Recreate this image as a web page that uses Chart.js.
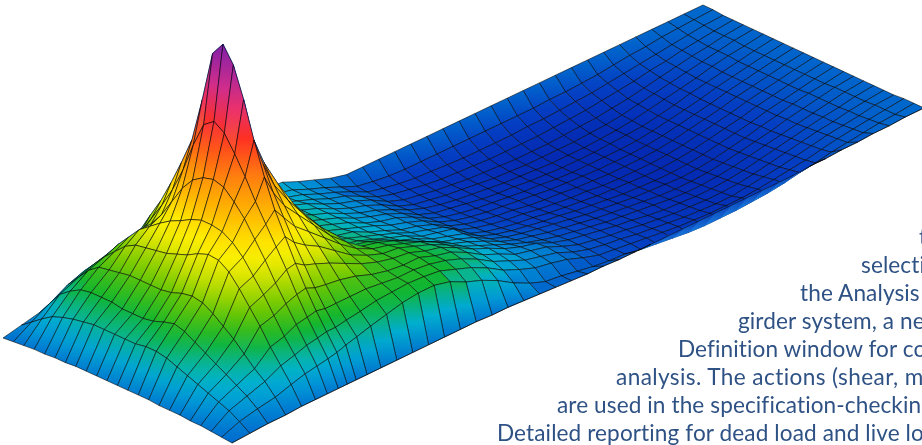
<!DOCTYPE html>
<html>
<head>
<meta charset="utf-8">
<style>
	html, body { margin: 0; padding: 0; width: 922px; height: 445px; overflow: hidden; background: #fff; }
	#surface { position: absolute; left: 0; top: 0; }
	.note { position: absolute; white-space: nowrap; font: 22.6px Lato, sans-serif; font-variant-ligatures: none; color: #2f5285; letter-spacing: 0.1px; }
</style>
<script src="https://cdn.jsdelivr.net/npm/chart.js@4"></script>
</head>
<body>
<canvas id="surface" width="922" height="445"></canvas>
<div class="note" style="left:919px;top:223px">t</div>
<div class="note" style="left:861px;top:251px">selecti</div>
<div class="note" style="left:800px;top:279px">the Analysis</div>
<div class="note" style="left:738px;top:307px">girder system, a ne</div>
<div class="note" style="left:678px;top:335px">Definition window for co</div>
<div class="note" style="left:616px;top:363px;letter-spacing:0.4px">analysis. The actions (shear, m</div>
<div class="note" style="left:557px;top:391px">are used in the specification-checkin</div>
<div class="note" style="left:497px;top:419px">Detailed reporting for dead load and live lo</div>
<script>
// stations along the span, one height list per station, 23 points across the width
const spanStations = [0, 18, 36, 54, 70, 84, 96, 107, 116, 125, 136, 150, 166, 182, 198, 214, 230, 246, 262, 278, 294, 310, 326, 342, 358, 374, 390, 406, 422, 438, 454, 470, 486, 502, 518, 534, 550, 566, 582, 598, 614, 630, 646, 662, 678, 697]

const z0 = [0, 1, 2, 3, 3, 4, 4, 5, 5, 5, 5, 5, 5, 5, 5, 4, 4, 4, 3, 3, 2, 1, 0]
const z18 = [4, 12, 20, 27, 31, 34, 36, 38, 38, 38, 38, 38, 40, 40, 38, 34, 30, 26, 22, 18, 14, 8, 1]
const z36 = [8, 22, 36, 44, 50, 52, 52, 52, 50, 50, 50, 52, 56, 59, 56, 50, 44, 38, 32, 26, 20, 12, 2]
const z54 = [12, 32, 44, 56, 64, 66, 68, 70, 70, 70, 70, 72, 76, 78, 76, 70, 62, 54, 44, 34, 26, 15, 2]
const z70 = [16, 38, 50, 62, 72, 82, 88, 90, 92, 94, 98, 102, 108, 112, 111, 104, 92, 78, 64, 48, 34, 20, 3]
const z84 = [20, 40, 54, 68, 80, 92, 100, 108, 115, 120, 126, 130, 130, 128, 122, 112, 98, 84, 68, 52, 38, 24, 3]
const z96 = [24, 40, 54, 66, 78, 92, 106, 124, 142, 155, 162, 165, 162, 152, 140, 124, 108, 90, 74, 58, 42, 26, 3]
const z107 = [26, 42, 56, 70, 88, 106, 126, 150, 180, 205, 213, 206, 190, 172, 152, 134, 116, 98, 78, 60, 44, 28, 3]
const z116 = [28, 47, 62, 82, 101, 124, 149, 176, 221, 272, 286, 270, 240, 204, 172, 144, 122, 100, 80, 62, 46, 30, 3]
const z125 = [28, 46, 60, 78, 96, 118, 142, 170, 200, 220, 225, 215, 198, 176, 152, 132, 112, 94, 76, 60, 46, 33, 3]
const z136 = [28, 44, 58, 74, 92, 112, 132, 150, 170, 184, 190, 182, 168, 150, 134, 118, 104, 90, 74, 60, 48, 36, 3]
const z150 = [28, 42, 56, 70, 86, 102, 116, 130, 142, 152, 156, 150, 140, 128, 118, 106, 96, 84, 72, 60, 50, 40, 3]
const z166 = [28, 40, 52, 64, 76, 88, 98, 108, 116, 122, 122, 118, 112, 106, 100, 92, 84, 76, 68, 60, 53, 44, 3]
const z182 = [27, 38, 48, 58, 68, 76, 84, 90, 94, 96, 96, 94, 90, 86, 82, 78, 72, 68, 62, 58, 54, 48, 3]
const z198 = [26, 36, 44, 52, 60, 66, 70, 72, 74, 74, 72, 70, 70, 70, 68, 66, 64, 62, 58, 56, 55, 50, 3]
const z214 = [26, 32, 38, 44, 48, 50, 50, 50, 48, 46, 46, 46, 48, 52, 56, 58, 58, 58, 56, 56, 54, 50, 3]
const z230 = [26, 30, 34, 38, 40, 42, 42, 40, 40, 40, 40, 42, 44, 48, 52, 54, 56, 56, 56, 54, 52, 46, 3]
const z246 = [25, 27, 30, 32, 34, 34, 34, 34, 34, 34, 36, 36, 38, 42, 46, 48, 50, 50, 50, 50, 46, 38, 3]
const z262 = [24, 24, 25, 26, 28, 28, 28, 28, 28, 28, 28, 30, 32, 34, 38, 42, 44, 46, 46, 44, 40, 32, 2]
const z278 = [23, 20, 20, 20, 20, 20, 20, 20, 20, 22, 22, 24, 26, 28, 30, 34, 36, 38, 38, 36, 32, 24, 2]
const z294 = [16, 13, 13, 13, 13, 13, 13, 14, 14, 15, 15, 17, 18, 20, 22, 25, 27, 29, 28, 26, 22, 14, 1]
const z310 = [10, 7, 7, 8, 8, 8, 8, 9, 10, 10, 11, 12, 14, 15, 17, 19, 20, 22, 21, 19, 15, 6, 0]
const z326 = [4, 0, 0, 0, 1, 1, 1, 2, 3, 4, 5, 7, 10, 10, 11, 12, 13, 14, 13, 12, 9, 0, -1]
const z342 = [0, -7, -8, -8, -8, -8, -7, -7, -6, -5, -4, -3, -2, 0, 2, 4, 6, 8, 9, 8, 6, -2, -2]
const z358 = [0, -10, -12, -13, -14, -14, -13, -13, -12, -11, -10, -9, -8, -6, -4, -2, 0, 4, 5, 4, 2, -5, -3]
const z374 = [0, -12, -15, -16, -17, -17, -17, -16, -16, -15, -14, -13, -12, -10, -8, -6, -5, -3, -2, -3, -4, -8, -3]
const z390 = [0, -13, -17, -19, -20, -20, -20, -19, -19, -18, -17, -16, -15, -13, -11, -10, -9, -8, -8, -8, -9, -10, -4]
const z406 = [0, -13, -18, -21, -22, -22, -22, -22, -21, -20, -19, -18, -17, -16, -14, -13, -12, -11, -11, -11, -11, -11, -4]
const z422 = [0, -13, -19, -22, -24, -24, -24, -24, -23, -22, -22, -21, -20, -18, -17, -16, -15, -14, -14, -13, -13, -14, -4]
const z438 = [0, -13, -20, -23, -25, -26, -26, -25, -25, -24, -24, -23, -22, -21, -20, -19, -18, -17, -16, -16, -15, -16, -4]
const z454 = [0, -13, -20, -24, -26, -27, -27, -27, -26, -26, -25, -25, -24, -23, -22, -21, -20, -19, -19, -18, -17, -18, -4]
const z470 = [0, -13, -20, -24, -27, -28, -28, -28, -28, -27, -27, -26, -26, -25, -24, -23, -22, -22, -21, -20, -19, -20, -4]
const z486 = [0, -13, -20, -24, -27, -28, -29, -29, -29, -28, -28, -28, -27, -27, -26, -25, -24, -24, -23, -22, -20, -21, -4]
const z502 = [0, -13, -19, -24, -27, -28, -29, -29, -29, -29, -29, -29, -28, -28, -27, -27, -26, -25, -24, -23, -21, -21, -4]
const z518 = [0, -13, -19, -23, -26, -28, -29, -29, -29, -29, -29, -29, -29, -29, -28, -28, -27, -26, -25, -24, -21, -21, -4]
const z534 = [0, -12, -18, -22, -25, -27, -28, -28, -29, -29, -29, -29, -29, -29, -29, -28, -27, -26, -25, -24, -21, -20, -4]
const z550 = [0, -12, -17, -21, -24, -26, -27, -27, -28, -28, -28, -28, -28, -28, -28, -27, -26, -25, -24, -22, -20, -19, -4]
const z566 = [0, -11, -16, -19, -22, -24, -25, -26, -26, -26, -26, -26, -26, -26, -26, -25, -24, -23, -22, -20, -18, -17, -4]
const z582 = [0, -10, -14, -17, -20, -21, -22, -23, -23, -23, -23, -23, -23, -23, -23, -22, -21, -20, -19, -18, -16, -14, -3]
const z598 = [0, -8, -12, -15, -17, -18, -19, -20, -20, -20, -20, -20, -20, -20, -20, -19, -18, -17, -16, -15, -14, -12, -3]
const z614 = [0, -6, -10, -12, -14, -15, -16, -16, -17, -17, -17, -17, -17, -17, -16, -16, -15, -14, -13, -12, -11, -9, -2]
const z630 = [0, -5, -8, -10, -11, -12, -13, -13, -13, -13, -13, -13, -13, -13, -13, -12, -12, -11, -10, -9, -8, -7, -2]
const z646 = [0, -3, -6, -7, -8, -9, -9, -10, -10, -10, -10, -10, -10, -10, -9, -9, -9, -8, -8, -7, -6, -5, -1]
const z662 = [0, -2, -4, -5, -6, -6, -6, -7, -7, -7, -7, -7, -7, -7, -6, -6, -6, -6, -5, -5, -4, -3, -1]
const z678 = [0, -1, -2, -3, -3, -3, -4, -4, -4, -4, -4, -4, -4, -4, -4, -3, -3, -3, -3, -2, -2, -2, 0]
const z697 = [0, 0, -1, -1, -1, -1, -1, -1, -1, -1, -1, -1, -1, -1, -1, -1, -1, -1, -1, -1, 0, 0, 0]

const heightRows = [z0, z18, z36, z54, z70, z84, z96, z107, z116, z125, z136, z150, z166, z182, z198, z214, z230, z246, z262, z278, z294, z310, z326, z342, z358, z374, z390, z406, z422, z438, z454, z470, z486, z502, z518, z534, z550, z566, z582, z598, z614, z630, z646, z662, z678, z697]

// colour ramp, height -> rgb
const rampHeights = [-30, -15, 0, 15, 28, 40, 52, 75, 100, 115, 145, 175, 205, 235, 265, 286]
const rampColors = [[4, 40, 178], [4, 62, 195], [0, 105, 205], [0, 150, 215], [0, 178, 205], [10, 180, 138], [16, 181, 48], [112, 200, 0], [221, 230, 0], [255, 240, 0], [255, 180, 0], [255, 122, 16], [255, 48, 32], [232, 48, 122], [168, 40, 168], [128, 32, 168]]

// corners of the flat deck on the page
const deckA = [3, 338]
const deckB = [232, 443]
const deckC = [924, 108]
const deckD = [703, 5]

const canvas = document.getElementById('surface')
const ctx = canvas.getContext('2d')

const heightColor = z => {
	let k = 0
	while (k < rampHeights.length - 2 && z > rampHeights[k + 1]) k++
	const t = Math.max(0, Math.min(1, (z - rampHeights[k]) / (rampHeights[k + 1] - rampHeights[k])))
	const c = rampColors[k].map((a, n) => Math.round(a + (rampColors[k + 1][n] - a) * t))
	return `rgb(${c[0]},${c[1]},${c[2]})`
}

const deckPoint = (s, w) => {
	const u = spanStations[s] / 697
	const v = w / 22
	return [0, 1].map(n => (1 - u) * (1 - v) * deckA[n] + u * (1 - v) * deckD[n] + (1 - u) * v * deckB[n] + u * v * deckC[n])
}

const project = (s, w) => {
	const p = deckPoint(s, w)
	return { x: p[0], y: p[1] - heightRows[s][w], z: heightRows[s][w] }
}

const quadFill = (pts, facingUp) => {
	const sorted = [...pts].sort((a, b) => a.y - b.y)
	const top = sorted[0]
	const bottom = sorted[3]
	const g = ctx.createLinearGradient(0, top.y, 0, Math.max(bottom.y, top.y + 1))
	if (facingUp) {
		g.addColorStop(0, heightColor(top.z))
		g.addColorStop(0.5, heightColor((top.z + bottom.z) / 2))
		g.addColorStop(1, heightColor(bottom.z))
	} else {
		g.addColorStop(0, '#0a3fb8')
		g.addColorStop(1, '#1a7fe0')
	}
	return g
}

const buildDatasets = () => {
	const quads = []
	for (let s = 0; s < heightRows.length - 1; s++) {
		for (let w = 0; w < 22; w++) {
			const pts = [project(s, w), project(s + 1, w), project(s + 1, w + 1), project(s, w + 1)]
			const a = pts[1].x - pts[3].x
			const b = pts[1].y - pts[3].y
			const c = pts[2].x - pts[0].x
			const d = pts[2].y - pts[0].y
			const facingUp = a * d - b * c > 0
			const paint = quadFill(pts, facingUp)
			quads.push({
				depth: deckPoint(s, w)[1] + deckPoint(s + 1, w + 1)[1],
				data: [...pts, pts[0]].map(p => ({ x: p.x, y: p.y })),
				backgroundColor: paint,
				borderColor: facingUp ? 'rgba(0,0,0,0.72)' : paint,
				borderWidth: 0.75,
				fill: 'shape',
				pointRadius: 0,
				tension: 0,
				clip: false
			})
		}
	}
	// first dataset ends up on top, so nearest cells go first
	quads.sort((p, q) => q.depth - p.depth)
	// front edge line, the last row of cells can hide it
	quads.unshift({
		data: heightRows.map((r, s) => project(s, 22)).map(p => ({ x: p.x, y: p.y })),
		borderColor: 'rgba(0,0,0,0.7)',
		borderWidth: 0.75,
		fill: false,
		pointRadius: 0,
		tension: 0,
		clip: false
	})
	return quads
}

new Chart(canvas, {
	type: 'line',
	data: { datasets: buildDatasets() },
	options: {
		responsive: false,
		animation: false,
		events: [],
		layout: { padding: 0 },
		plugins: { legend: { display: false }, tooltip: { enabled: false } },
		scales: {
			x: { type: 'linear', min: 0, max: 922, display: false },
			y: { type: 'linear', min: 0, max: 445, reverse: true, display: false }
		}
	}
})
</script>
</body>
</html>
